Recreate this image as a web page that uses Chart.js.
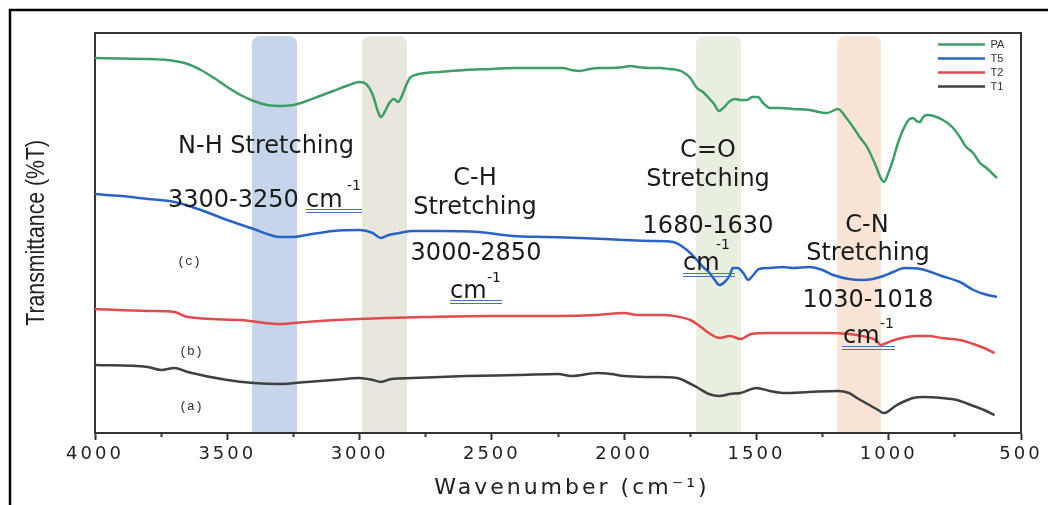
<!DOCTYPE html>
<html>
<head>
<meta charset="utf-8">
<script src="https://cdn.jsdelivr.net/npm/chart.js@4.4.1/dist/chart.umd.min.js"></script>
<style>
html,body{margin:0;padding:0;background:#fff;}
canvas{display:block;}
</style>
</head>
<body>
<canvas id="c" width="1048" height="505"></canvas>
<script>
// ---------- data ----------
const seriesNames = ['PA', 'T5', 'T2', 'T1'];

const paWave = [4000,3900,3800,3700,3650,3600,3550,3500,3450,3400,3350,3300,3250,3200,3150,3100,3050,3000,2975,2950,2930,2920,2905,2890,2870,2855,2840,2825,2810,2790,2750,2700,2600,2500,2420,2300,2231,2200,2167,2130,2100,2050,2000,1978,1950,1900,1864,1830,1800,1778,1750,1725,1702,1680,1660,1642,1625,1600,1580,1560,1536,1515,1494,1475,1449,1410,1362,1300,1233,1192,1160,1135,1110,1082,1050,1030,1018,1000,984,965,946,925,908,895,882,870,855,830,795,760,731,710,681,655,630,591];
const paT = [93.75,93.6,93.5,93.0,92.25,90.75,88.75,86.5,84.5,83.0,82.0,81.75,82.0,83.0,84.25,85.5,86.75,87.75,87.25,84.5,80.25,79.0,80.25,82.25,83.5,82.75,84.25,86.75,88.75,89.5,90.0,90.25,90.75,91.0,91.25,91.25,91.25,90.75,90.5,91.0,91.25,91.25,91.5,91.75,91.5,91.25,91.25,91.0,90.75,90.25,88.75,86.25,85.25,83.75,82.25,80.5,81.25,83.0,83.5,83.25,83.25,84.0,84.0,82.5,81.25,81.25,81.0,80.75,80.0,81.0,78.75,76.5,74.0,71.5,67.0,63.75,62.75,65.25,68.25,72.5,75.75,78.25,78.75,78.0,77.75,79.0,79.5,79.25,78.25,76.5,74.0,71.75,70.0,67.5,66.25,63.75];

const t5Wave = [4000,3900,3800,3700,3600,3500,3400,3300,3250,3200,3100,3000,2950,2920,2890,2850,2800,2700,2550,2420,2300,2167,2000,1900,1815,1763,1725,1702,1680,1660,1640,1620,1600,1590,1570,1550,1530,1515,1490,1450,1400,1362,1300,1250,1210,1150,1100,1060,1020,984,940,880,800,731,680,640,591];
const t5T = [59.75,59.25,58.5,57.75,55.75,53.25,51.0,49.0,49.0,49.5,50.5,50.75,50.0,48.75,49.5,50.0,50.5,50.5,50.25,49.25,49.0,48.75,48.25,48.0,47.75,45.75,43.25,41.5,40.25,38.5,37.0,37.75,39.5,41.25,41.25,40.0,38.25,39.25,41.0,41.25,41.5,41.25,41.5,40.75,39.5,38.5,38.25,38.5,39.25,40.25,41.25,41.0,39.25,37.75,35.75,34.75,34.0];

const t2Wave = [4000,3800,3700,3650,3450,3300,3250,3150,3000,2900,2750,2500,2250,2100,2000,1950,1850,1790,1750,1720,1680,1640,1600,1560,1520,1450,1300,1230,1150,1100,1050,1030,1018,990,950,900,850,800,731,680,640,600];
const t2T = [31.0,30.5,30.25,29.0,28.25,27.25,27.5,28.0,28.5,28.75,29.0,29.25,29.25,29.5,30.0,29.5,29.5,29.0,28.25,27.0,25.0,23.75,24.25,23.5,24.75,25.0,25.0,25.0,24.75,24.25,23.25,22.0,22.25,23.0,23.75,24.25,24.25,23.75,23.25,22.25,21.25,20.0];

const t1Wave = [4000,3800,3750,3700,3650,3500,3400,3300,3200,3100,3000,2950,2920,2880,2800,2600,2400,2250,2200,2100,2050,2000,1900,1800,1778,1720,1680,1640,1600,1560,1500,1450,1400,1300,1192,1150,1120,1080,1040,1018,1000,975,946,908,867,800,742,700,640,600];
const t1T = [17.0,16.5,15.75,16.25,15.25,13.25,12.5,12.25,12.75,13.25,13.75,13.25,12.75,13.5,13.75,14.25,14.5,14.75,14.25,15.0,14.75,14.25,14.0,13.75,13.25,11.25,9.75,9.25,9.75,10.0,11.25,10.5,10.0,10.25,10.5,10.0,8.75,7.25,5.75,5.0,5.5,6.75,7.75,8.75,9.0,8.75,8.25,7.25,5.75,4.5];

// x-axis range and tick step (wavenumber, cm-1)
const xMin = 500, xMax = 4000, xStep = 250, xLabelStep = 500;
// highlighted absorption bands [from, to] in cm-1
const bandRanges = [[3407, 3236], [2991, 2821], [1728, 1558], [1195, 1029]];
// annotation texts
const bandLabels = [
  ['N-H Stretching', '3300-3250'],
  ['C-H', 'Stretching', '3000-2850'],
  ['C=O', 'Stretching', '1680-1630'],
  ['C-N', 'Stretching', '1030-1018']
];
const sampleLabels = ['(c)', '(b)', '(a)'];

// ---------- styles ----------
const lineColors = ['#3f9d67', '#2a63c6', '#e04b4e', '#404040'];
const bandColors = ['#c6d5ea', '#e8e6dd', '#e9efe0', '#f9e4d6'];
const FONT_TXT = "'DejaVu Sans', Verdana, sans-serif";

// annotation layout (pixel positions relative to canvas)
const annLayout = [
  { lines: [{x: 266, y: 153, a: 'center'}, {x: 168, y: 207, a: 'left'}], cm: {x: 306, y: 207}, sup: {x: 347, y: 190}, ul: [306, 362, 209] },
  { lines: [{x: 475, y: 185, a: 'center'}, {x: 475, y: 214, a: 'center'}, {x: 476, y: 260, a: 'center'}], cm: {x: 450, y: 298}, sup: {x: 487, y: 282}, ul: [450, 502, 300] },
  { lines: [{x: 708, y: 157, a: 'center'}, {x: 708, y: 186, a: 'center'}, {x: 708, y: 233, a: 'center'}], cm: {x: 683, y: 270}, sup: {x: 716, y: 249}, ul: [683, 735, 273] },
  { lines: [{x: 867, y: 232, a: 'center'}, {x: 868, y: 260, a: 'center'}, {x: 868, y: 307, a: 'center'}], cm: {x: 843, y: 343}, sup: {x: 880, y: 328}, ul: [842, 895, 346] }
];
const sampleLayout = [{x: 189, y: 262}, {x: 191, y: 352}, {x: 191, y: 407}];

function toPoints(w, t) { return w.map((v, i) => ({x: v, y: t[i]})); }

const deco = {
  id: 'deco',
  afterLayout(chart) {
    const lg = chart.legend;
    if (lg) {
      lg.left = 935; lg.top = 36; lg.right = lg.left + 80; lg.bottom = lg.top + 60;
    }
    const xs = chart.scales.x, ys = chart.scales.y;
    if (xs && !xs._wrapped) {
      const dl = xs.drawLabels.bind(xs), dt = xs.drawTitle.bind(xs);
      xs.drawLabels = function (a) { const c = chart.ctx; c.letterSpacing = '3px'; dl(a); c.letterSpacing = '0px'; };
      xs.drawTitle = function (a) {
        const c = chart.ctx; c.save(); c.translate(14, 0); c.letterSpacing = '3px'; dt(a); c.letterSpacing = '0px'; c.restore();
      };
      xs._wrapped = true;
    }
    if (ys && !ys._wrapped) {
      const dt = ys.drawTitle.bind(ys);
      ys.drawTitle = function (a) {
        const c = chart.ctx, cy = (ys.top + ys.bottom) / 2 - 1;
        c.save(); c.translate(0, cy); c.scale(1, 0.85); c.translate(0, -cy); dt(a); c.restore();
      };
      ys._wrapped = true;
    }
  },
  beforeDraw(chart) {
    const c = chart.ctx, ca = chart.chartArea, xs = chart.scales.x;
    c.save();
    c.fillStyle = '#fff';
    c.fillRect(0, 0, chart.width, chart.height);
    // outer frame (left and top)
    c.strokeStyle = '#000'; c.lineWidth = 2.5;
    c.beginPath(); c.moveTo(10, chart.height); c.lineTo(10, 10); c.lineTo(chart.width, 10); c.stroke();
    // bands
    bandRanges.forEach((r, i) => {
      const x1 = xs.getPixelForValue(r[0]), x2 = xs.getPixelForValue(r[1]);
      const l = Math.min(x1, x2), w = Math.abs(x2 - x1);
      const top = ca.top + 3, bot = ca.bottom;
      c.fillStyle = bandColors[i];
      c.beginPath();
      if (c.roundRect) c.roundRect(l, top, w, bot - top, [8, 8, 0, 0]); else c.rect(l, top, w, bot - top);
      c.fill();
    });
    c.restore();
  },
  afterDatasetsDraw(chart) {
    const c = chart.ctx, ca = chart.chartArea;
    c.save();
    // plot box top and right
    c.strokeStyle = '#333'; c.lineWidth = 2;
    c.beginPath(); c.moveTo(ca.left, ca.top); c.lineTo(ca.right, ca.top); c.lineTo(ca.right, ca.bottom); c.stroke();
    // annotations
    c.fillStyle = '#1b1b1b';
    c.textBaseline = 'alphabetic';
    bandLabels.forEach((lines, i) => {
      const L = annLayout[i];
      c.font = "24px " + FONT_TXT;
      lines.forEach((t, j) => {
        c.textAlign = L.lines[j].a;
        c.fillText(t, L.lines[j].x, L.lines[j].y);
      });
      c.textAlign = 'left';
      c.fillText('cm', L.cm.x, L.cm.y);
      c.font = "14px " + FONT_TXT;
      c.fillText('-1', L.sup.x, L.sup.y);
      c.strokeStyle = '#4a72b8'; c.lineWidth = 1;
      c.beginPath();
      c.moveTo(L.ul[0], L.ul[2] + 0.5); c.lineTo(L.ul[1], L.ul[2] + 0.5);
      c.moveTo(L.ul[0], L.ul[2] + 3.5); c.lineTo(L.ul[1], L.ul[2] + 3.5);
      c.stroke();
    });
    c.font = "13px 'Liberation Mono', 'DejaVu Sans Mono', monospace";
    c.fillStyle = '#333';
    c.textAlign = 'center'; c.textBaseline = 'middle';
    sampleLabels.forEach((t, i) => c.fillText(t, sampleLayout[i].x, sampleLayout[i].y));
    c.restore();
  }
};

const seriesWave = [paWave, t5Wave, t2Wave, t1Wave];
const seriesT = [paT, t5T, t2T, t1T];

new Chart(document.getElementById('c'), {
  type: 'line',
  data: {
    datasets: seriesNames.map((n, i) => ({
      label: n,
      data: toPoints(seriesWave[i], seriesT[i]),
      borderColor: lineColors[i],
      backgroundColor: lineColors[i],
      borderWidth: 2.5,
      pointRadius: 0,
      pointStyle: 'line',
      tension: 0.35,
      cubicInterpolationMode: 'monotone',
      fill: false
    }))
  },
  options: {
    responsive: false,
    animation: false,
    devicePixelRatio: 1,
    layout: { padding: { top: 33, right: 27, left: 0, bottom: 0 } },
    plugins: {
      legend: {
        position: 'chartArea',
        align: 'start',
        labels: {
          usePointStyle: true,
          pointStyle: 'line',
          pointStyleWidth: 47,
          padding: 3,
          color: '#333',
          font: { family: "'Liberation Sans', Arial, sans-serif", size: 11 }
        }
      },
      tooltip: { enabled: false }
    },
    scales: {
      x: {
        type: 'linear',
        reverse: true,
        min: xMin, max: xMax,
        afterFit(s) { s.height = 72; },
        border: { display: true, color: '#333', width: 2 },
        grid: {
          display: true, drawOnChartArea: false, drawTicks: true,
          tickLength: 7, tickWidth: 2, tickColor: '#333',
          tickBorderDash: (ctx) => (ctx.tick && ctx.tick.value % xLabelStep !== 0) ? [3, 40] : []
        },
        ticks: {
          stepSize: xStep, autoSkip: false, maxRotation: 0, padding: 4,
          color: '#222',
          font: { family: FONT_TXT, size: 18 },
          callback: (v) => (v % xLabelStep === 0 ? String(v) : '')
        },
        title: {
          display: true, text: 'Wavenumber (cm⁻¹)', color: '#222',
          font: { family: FONT_TXT, size: 22 },
          padding: { top: 0, bottom: 4 }
        }
      },
      y: {
        min: 0, max: 100,
        afterFit(s) { s.width = 95; },
        border: { display: true, color: '#333', width: 2 },
        grid: { display: false, drawTicks: false },
        ticks: { display: false },
        title: {
          display: true, text: 'Transmittance (%T)', color: '#222',
          font: { family: "'Liberation Sans', Arial, sans-serif", size: 25 },
          padding: { top: 22, bottom: 0 }
        }
      }
    }
  },
  plugins: [deco]
});
</script>
</body>
</html>
